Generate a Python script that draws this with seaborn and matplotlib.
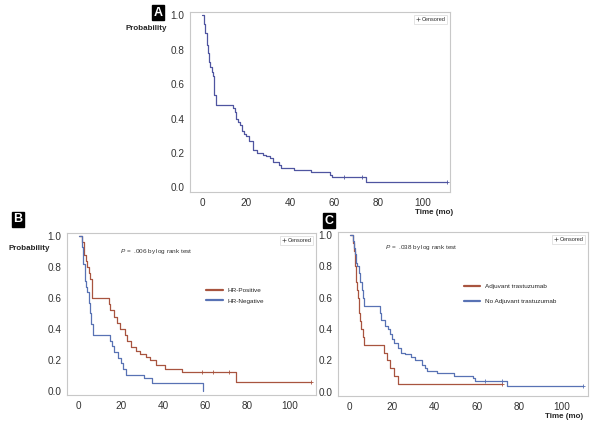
import numpy as np
import pandas as pd
import matplotlib
matplotlib.use("Agg")
import matplotlib.pyplot as plt
import seaborn as sns
from matplotlib.lines import Line2D

# ---------------- data ----------------
A_time = [0, 1.0, 1.5, 2.1, 2.6, 3.3, 3.8, 4.3, 4.9, 5.3, 5.6, 6.1, 14.0, 14.8, 15.6, 16.3, 17.1,
          18.3, 19.2, 20.1, 21.4, 22.9, 25.0, 27.8, 29.0, 30.8, 32.3, 34.9, 36.0, 41.5, 49.5,
          58.2, 59.0, 74.6, 111]
A_surv = [1.0, 0.95, 0.90, 0.83, 0.78, 0.73, 0.70, 0.67, 0.65, 0.62, 0.54, 0.48, 0.46, 0.44, 0.40,
          0.38, 0.36, 0.33, 0.31, 0.30, 0.27, 0.22, 0.20, 0.19, 0.18, 0.17, 0.15, 0.13, 0.11, 0.10,
          0.087, 0.07, 0.06, 0.03, 0.03]
A_cens = [64.2, 72.6, 111]

Bp_time = [0, 1.5, 2.5, 3.5, 4.0, 5.0, 5.5, 6.5, 14.5, 15.0, 17.0, 18.0, 19.5, 22.0, 23.0, 25.0,
           27.0, 29.0, 32.0, 34.0, 36.5, 41.0, 49.0, 74.5, 110]
Bp_surv = [1.0, 0.96, 0.88, 0.84, 0.80, 0.76, 0.72, 0.60, 0.56, 0.52, 0.48, 0.44, 0.40, 0.36, 0.32,
           0.28, 0.26, 0.24, 0.22, 0.20, 0.17, 0.14, 0.12, 0.06, 0.06]
Bp_cens = [58.5, 63.5, 71.5, 110]

Bn_time = [0, 1.5, 2.0, 3.0, 3.5, 4.0, 5.0, 5.5, 6.0, 6.7, 15.0, 16.0, 17.0, 18.5, 20.0, 21.0,
           22.3, 31.0, 35.0, 59.0]
Bn_surv = [1.0, 0.93, 0.82, 0.71, 0.67, 0.64, 0.57, 0.50, 0.43, 0.36, 0.32, 0.29, 0.25, 0.21, 0.18,
           0.14, 0.10, 0.08, 0.05, 0.0]
Bn_cens = []

Cr_time = [0, 1.5, 2.0, 2.3, 2.6, 2.9, 3.1, 3.5, 3.8, 4.2, 4.5, 5.0, 5.5, 6.2, 6.7, 16.0, 17.5,
           19.0, 21.0, 23.0, 72.0]
Cr_surv = [1.0, 0.95, 0.90, 0.85, 0.80, 0.75, 0.70, 0.65, 0.60, 0.55, 0.50, 0.45, 0.40, 0.35, 0.30,
           0.25, 0.20, 0.15, 0.10, 0.05, 0.05]
Cr_cens = [72.0]

Cb_time = [0, 1.5, 2.0, 2.5, 3.0, 3.5, 4.4, 5.1, 5.6, 6.2, 6.7, 14.2, 15.0, 16.5, 18.0, 19.0, 20.0,
           21.0, 22.7, 24.0, 26.0, 29.0, 31.0, 34.0, 35.5, 36.3, 41.0, 49.3, 58.0, 59.0, 74.5, 110]
Cb_surv = [1.0, 0.96, 0.92, 0.88, 0.82, 0.80, 0.76, 0.70, 0.65, 0.60, 0.545, 0.50, 0.46, 0.42, 0.40,
           0.37, 0.34, 0.31, 0.28, 0.25, 0.24, 0.22, 0.20, 0.17, 0.15, 0.135, 0.12, 0.10, 0.085, 0.07,
           0.035, 0.035]
Cb_cens = [64.0, 72.0, 110]

B_labels = ["HR-Positive", "HR-Negative"]
C_labels = ["Adjuvant trastuzumab", "No Adjuvant trastuzumab"]
B_ptext = ".006 by log rank test"
C_ptext = ".038 by log rank test"
x_ticks = [0, 20, 40, 60, 80, 100]
y_ticks = [0.0, 0.2, 0.4, 0.6, 0.8, 1.0]

# ---------------- style ----------------
sns.set_style("white")
plt.rcParams['font.family'] = ['Liberation Sans', 'DejaVu Sans']
plt.rcParams['mathtext.fontset'] = 'custom'
plt.rcParams['mathtext.it'] = 'Liberation Sans:italic'
plt.rcParams['mathtext.rm'] = 'Liberation Sans'

RED = "#A8543F"
BLUE = "#5872B4"
PURPLE = "#4F55A0"
SPINE = "#C8C8C8"
TXT = "#333333"

fig = plt.figure(figsize=(6, 4.25), dpi=100)


def step_at(times, survs, t):
    idx = np.searchsorted(times, t, side='right') - 1
    return survs[idx]


def km(ax, times, survs, cens, color, label):
    df = pd.DataFrame({"time": times, "surv": survs, "group": label})
    sns.lineplot(data=df, x="time", y="surv", color=color, drawstyle="steps-post",
                 estimator=None, ax=ax, legend=False, lw=0.9)
    if cens:
        cy = [step_at(times, survs, c) for c in cens]
        sns.scatterplot(x=cens, y=cy, marker="+", s=10, color=color, linewidth=0.6,
                        ax=ax, legend=False, zorder=5)


def style_ax(ax):
    ax.set_xlim(-5.5, 112.5)
    ax.set_ylim(-0.027, 1.02)
    ax.set_xticks(x_ticks)
    ax.set_yticks(y_ticks)
    ax.set_yticklabels([f"{v:.1f}" for v in y_ticks])
    ax.set_xlabel("")
    ax.set_ylabel("")
    for s in ax.spines.values():
        s.set_color(SPINE)
        s.set_linewidth(0.8)
    ax.tick_params(axis='both', labelsize=7.2, colors="#888888", labelcolor=TXT,
                   length=2.5, width=0.6, direction='out', pad=1.5)
    leg = ax.legend(handles=[Line2D([], [], color="#555555", marker="+", ls="",
                                     markersize=3, mew=0.5)],
                    labels=["Censored"], loc="upper right", fontsize=4,
                    frameon=True, handlelength=0.6, handletextpad=0.3,
                    borderpad=0.35, fancybox=False, borderaxespad=0.5)
    leg.get_frame().set_edgecolor("#D0D0D0")
    leg.get_frame().set_linewidth(0.5)
    return leg


def panel_letter(x, y, letter):
    fig.text(x, y, letter, color="white", fontsize=9, fontweight="bold", ha="center",
             va="center", bbox=dict(boxstyle="square,pad=0.12", fc="black", ec="black"))


# ---------------- Panel A ----------------
axA = fig.add_axes([190/600, 1-192/425, 260/600, 180/425])
km(axA, A_time, A_surv, A_cens, PURPLE, "All")
style_ax(axA)
panel_letter(158/600, 1-12.5/425, "A")
fig.text(167/600, 1-28/425, "Probability", fontsize=5.8, fontweight="bold", ha="right", va="center")
fig.text(453/600, 1-212.5/425, "Time (mo)", fontsize=5.8, fontweight="bold", ha="right", va="center")

# ---------------- Panel B ----------------
axB = fig.add_axes([67/600, 1-395/425, 249/600, 162/425])
km(axB, Bp_time, Bp_surv, Bp_cens, RED, B_labels[0])
km(axB, Bn_time, Bn_surv, Bn_cens, BLUE, B_labels[1])
legB = style_ax(axB)
axB.add_artist(legB)
axB.legend(handles=[Line2D([], [], color=RED, lw=1.6), Line2D([], [], color=BLUE, lw=1.6)],
           labels=B_labels, loc="upper left", bbox_to_anchor=(0.535, 0.70), frameon=False,
           fontsize=4.6, handlelength=2.6, handletextpad=0.8, labelspacing=0.85)
axB.text(19.6, 0.90, "$P$ =  " + B_ptext, fontsize=4.6, va="center", ha="left", color=TXT)
panel_letter(18/600, 1-219.5/425, "B")
fig.text(50/600, 1-248/425, "Probability", fontsize=5.8, fontweight="bold", ha="right", va="center")

# ---------------- Panel C ----------------
axC = fig.add_axes([338/600, 1-396/425, 250/600, 164/425])
km(axC, Cr_time, Cr_surv, Cr_cens, RED, C_labels[0])
km(axC, Cb_time, Cb_surv, Cb_cens, BLUE, C_labels[1])
legC = style_ax(axC)
axC.add_artist(legC)
axC.legend(handles=[Line2D([], [], color=RED, lw=1.6), Line2D([], [], color=BLUE, lw=1.6)],
           labels=C_labels, loc="upper left", bbox_to_anchor=(0.48, 0.72), frameon=False,
           fontsize=4.6, handlelength=2.6, handletextpad=0.8, labelspacing=1.45)
axC.text(16.8, 0.92, "$P$ =  " + C_ptext, fontsize=4.6, va="center", ha="left", color=TXT)
panel_letter(329/600, 1-220.5/425, "C")
fig.text(583/600, 1-416/425, "Time (mo)", fontsize=5.8, fontweight="bold", ha="right", va="center")

fig.savefig("out.png", dpi=100)
